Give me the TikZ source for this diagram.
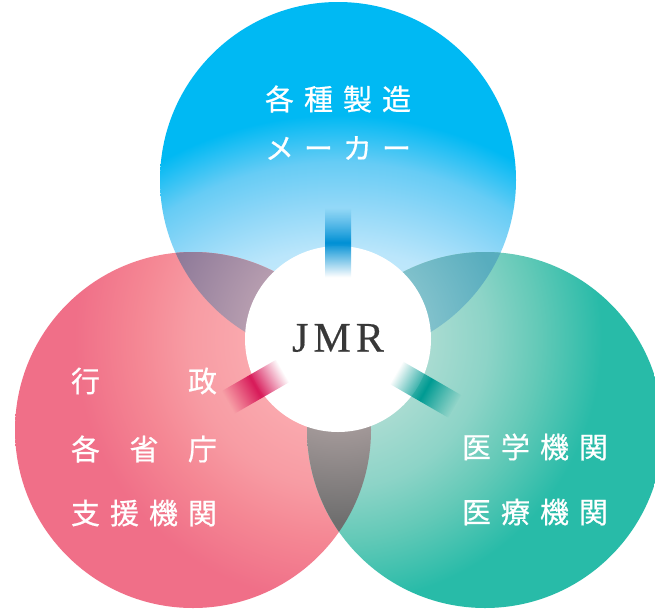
\documentclass[tikz,border=0pt]{standalone}
\usepackage{fontspec}
\usetikzlibrary{fadings}
\newfontfamily\jpfont[FakeBold=0.6]{Noto Sans CJK JP}
\newfontfamily\latinfont[LetterSpace=12,FakeBold=0.4]{Liberation Serif}
\definecolor{barblue}{HTML}{0090D5}
\definecolor{barpink}{HTML}{D81B5A}
\definecolor{barteal}{HTML}{009B93}
\pgfdeclareradialshading{blueshade}{\pgfpoint{0bp}{0bp}}{
 rgb(0bp)=(1,1,1); rgb(11.5bp)=(.733,.902,.984); rgb(14bp)=(.55,.84,.97); rgb(15.9bp)=(.40,.80,.96); rgb(18.25bp)=(0,.725,.953); rgb(50bp)=(0,.725,.953)}
\pgfdeclareradialshading{pinkshade}{\pgfpoint{0bp}{0bp}}{
 rgb(0bp)=(.98,.66,.68); rgb(5.8bp)=(.98,.66,.68); rgb(9.35bp)=(.97,.61,.64); rgb(12.5bp)=(.96,.53,.58); rgb(16.5bp)=(.94,.435,.533); rgb(50bp)=(.94,.435,.533)}
\pgfdeclareradialshading{tealshade}{\pgfpoint{0bp}{0bp}}{
 rgb(0bp)=(.66,.86,.82); rgb(5.8bp)=(.66,.86,.82); rgb(9.35bp)=(.55,.83,.78); rgb(12.5bp)=(.39,.79,.72); rgb(16.5bp)=(.157,.733,.659); rgb(50bp)=(.157,.733,.659)}
\pgfdeclareradialshading{tlshade}{\pgfpoint{0bp}{0bp}}{
 rgb(0bp)=(.72,.62,.69); rgb(5.6bp)=(.72,.62,.69); rgb(11.2bp)=(.56,.48,.60); rgb(50bp)=(.56,.48,.60)}
\pgfdeclareradialshading{trshade}{\pgfpoint{0bp}{0bp}}{
 rgb(0bp)=(.51,.76,.80); rgb(5.6bp)=(.51,.76,.80); rgb(10.5bp)=(.345,.678,.745); rgb(50bp)=(.345,.678,.745)}
\pgfdeclareradialshading{botshade}{\pgfpoint{0bp}{0bp}}{
 rgb(0bp)=(.64,.60,.60); rgb(5.6bp)=(.64,.60,.60); rgb(11.5bp)=(.43,.43,.43); rgb(50bp)=(.43,.43,.43)}
\tikzfading[name=barfade, top color=transparent!100, bottom color=transparent!100, middle color=transparent!0]
\tikzset{
 lbl/.style={text=white,font=\jpfont\fontsize{29}{29}\selectfont,inner sep=0pt},
 hub/.style={circle,fill=white,minimum size=186pt,inner sep=0pt}
}
\newcommand{\spreadlbl}[2]{\hbox to #1pt{#2}}
\begin{document}
\begin{tikzpicture}[x=1pt,y=-1pt]
\useasboundingbox (0,0) rectangle (655,608);
\coordinate (hubc) at (338,339);
\coordinate (tc) at (338,180);
\coordinate (lc) at (193,430);
\coordinate (rc) at (485,430);
\def\bigr{178}
% coloured circles
\begin{scope}\clip (tc) circle (\bigr);
 \shade[shading=blueshade] (338,480) circle (500);
\end{scope}
\begin{scope}\clip (lc) circle (\bigr);
 \shade[shading=pinkshade] (hubc) circle (400);
\end{scope}
\begin{scope}\clip (rc) circle (\bigr);
 \shade[shading=tealshade] (hubc) circle (400);
\end{scope}
% overlaps
\begin{scope}\clip (tc) circle (\bigr);\clip (lc) circle (\bigr);
 \shade[shading=tlshade] (hubc) circle (400);
\end{scope}
\begin{scope}\clip (tc) circle (\bigr);\clip (rc) circle (\bigr);
 \shade[shading=trshade] (hubc) circle (400);
\end{scope}
\begin{scope}\clip (lc) circle (\bigr);\clip (rc) circle (\bigr);
 \shade[shading=botshade] (hubc) circle (400);
\end{scope}
% hub
\node[hub] (hubn) at (hubc) {};
% bars
\shade[path fading=barfade,top color=barblue,bottom color=barblue,transform canvas={rotate around={0:(hubc)}}] (325,208) rectangle (351,277);
\shade[path fading=barfade,top color=barpink,bottom color=barpink,transform canvas={rotate around={120:(hubc)}}] (325,212) rectangle (351,275);
\shade[path fading=barfade,top color=barteal,bottom color=barteal,transform canvas={rotate around={-120:(hubc)}}] (325,204) rectangle (351,272);
\node[text=black!78,font=\latinfont\fontsize{42}{42}\selectfont,inner sep=0pt] (jmr) at (338,338) {JMR};
% labels
\node[lbl] (a1) at (338,99) {\spreadlbl{146}{各\hfil 種\hfil 製\hfil 造}};
\node[lbl] (a2) at (338,148) {\spreadlbl{146}{メ\hfil ー\hfil カ\hfil ー}};
\node[lbl] (b1) at (144,381) {\spreadlbl{146}{行\hfil 政}};
\node[lbl] (b2) at (144,449) {\spreadlbl{146}{各\hfil 省\hfil 庁}};
\node[lbl] (b3) at (144,513) {\spreadlbl{146}{支\hfil 援\hfil 機\hfil 関}};
\node[lbl] (c1) at (535,447) {\spreadlbl{146}{医\hfil 学\hfil 機\hfil 関}};
\node[lbl] (c2) at (535,512) {\spreadlbl{146}{医\hfil 療\hfil 機\hfil 関}};
\end{tikzpicture}
\end{document}
